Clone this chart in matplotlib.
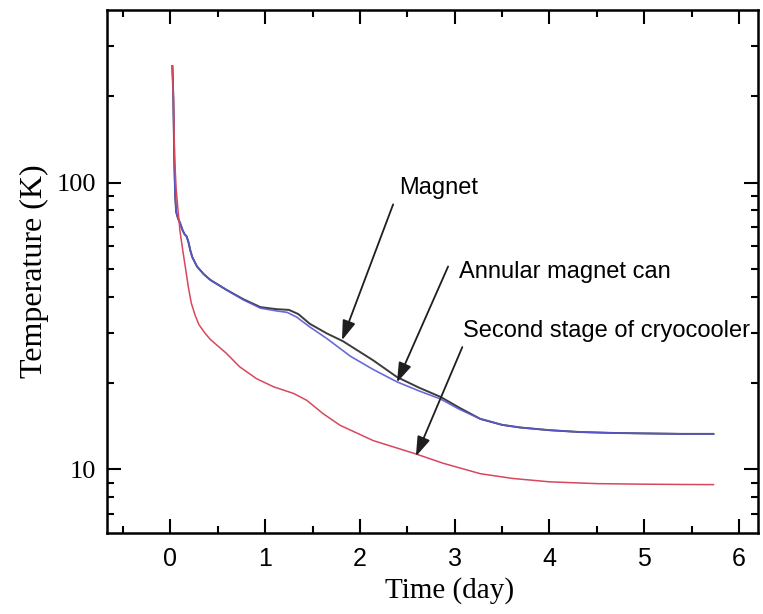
import matplotlib
matplotlib.use("Agg")
from matplotlib import pyplot as plt
from matplotlib.ticker import FixedLocator, NullFormatter
import numpy as np

# data (time in days, temperature in K)
can_time = [0.02, 0.03, 0.04, 0.05, 0.06, 0.08, 0.10, 0.13, 0.15, 0.17, 0.19, 0.21, 0.23, 0.28,
            0.35, 0.42, 0.59, 0.77, 0.95, 1.12, 1.23, 1.33, 1.47, 1.65, 1.90, 2.14, 2.39, 2.62,
            2.85, 3.05, 3.27, 3.50, 3.69, 4.00, 4.32, 4.67, 5.00, 5.40, 5.73]
can_temp = [255, 200, 120, 90, 79, 75, 72.5, 68, 66, 65, 62, 58, 55, 51,
            48, 45.8, 42.3, 39.0, 36.5, 35.7, 35.3, 34.0, 31.4, 28.6, 24.8, 22.3, 20.2, 18.8,
            17.6, 16.2, 15.0, 14.3, 14.0, 13.7, 13.5, 13.4, 13.35, 13.3, 13.3]

magnet_time = [0.02, 0.03, 0.04, 0.05, 0.06, 0.08, 0.10, 0.13, 0.15, 0.17, 0.19, 0.21, 0.23, 0.28,
               0.35, 0.42, 0.59, 0.77, 0.95, 1.12, 1.25, 1.35, 1.47, 1.65, 1.82, 2.14, 2.39, 2.62,
               2.85, 3.05, 3.27, 3.50, 3.69, 4.00, 4.32, 4.67, 5.00, 5.40, 5.73]
magnet_temp = [255, 200, 120, 90, 79, 75, 72.5, 68, 66, 65, 62, 58, 55, 51,
               48, 45.8, 42.3, 39.2, 36.8, 36.2, 36.0, 34.8, 32.2, 29.8, 28.0, 24.0, 21.0, 19.3,
               17.9, 16.4, 15.0, 14.3, 14.0, 13.7, 13.5, 13.4, 13.35, 13.3, 13.3]

cooler_time = [0.02, 0.03, 0.045, 0.06, 0.08, 0.10, 0.13, 0.16, 0.19, 0.22, 0.26, 0.30, 0.36, 0.42,
               0.59, 0.73, 0.91, 1.09, 1.30, 1.44, 1.61, 1.79, 2.14, 2.58, 2.88, 3.27, 3.61,
               4.00, 4.50, 5.00, 5.40, 5.73]
cooler_temp = [255, 200, 120, 95, 80, 68, 58, 50, 43, 38, 34.5, 32, 30, 28.4,
               25.4, 22.8, 20.7, 19.4, 18.4, 17.4, 15.65, 14.25, 12.6, 11.35, 10.5, 9.66, 9.30,
               9.05, 8.92, 8.88, 8.86, 8.85]

labels = ["Magnet", "Annular magnet can", "Second stage of cryocooler"]
label_pos = [(2.41, 96), (3.04, 48.9), (3.09, 30.4)]
arrow_from = [(2.35, 84), (2.93, 51), (3.08, 26.7)]
arrow_to = [(1.81, 28.2), (2.39, 20.1), (2.59, 11.1)]

x_ticks = [0, 1, 2, 3, 4, 5, 6]

fig = plt.figure(figsize=(7.63, 6.14), dpi=100)
ax = fig.add_axes([0.1402, 0.1319, 0.8532, 0.8518])

ax.plot(magnet_time, magnet_temp, color="#3c3c3c", lw=1.4)
ax.plot(can_time, can_temp, color="#5a5ad6", lw=1.2, alpha=0.9)
ax.plot(cooler_time, cooler_temp, color="#d8475c", lw=1.1)

ax.set_yscale("log")
ax.set_xlim(-0.67, 6.2)
ax.set_ylim(6, 400)

ax.set_xticks(x_ticks)
ax.set_xticklabels([str(t) for t in x_ticks], fontfamily="Liberation Sans", fontsize=18)
ax.xaxis.set_minor_locator(FixedLocator(np.arange(-0.5, 6.2, 0.5)))

ax.yaxis.set_major_locator(FixedLocator([10, 100]))
ax.set_yticklabels(["10", "100"], fontfamily="Liberation Serif", fontsize=19)
ax.yaxis.set_minor_locator(FixedLocator([7, 8, 9, 20, 30, 40, 50, 60, 70, 80, 90, 200, 300]))
ax.yaxis.set_minor_formatter(NullFormatter())

ax.tick_params(which="both", direction="in", top=True, right=True, width=1.5)
ax.tick_params(which="major", length=10)
ax.tick_params(which="minor", length=5)
ax.tick_params(axis="x", pad=10)
ax.tick_params(axis="y", pad=8)
for s in ax.spines.values():
    s.set_linewidth(1.8)

ax.set_xlabel("Time (day)", fontfamily="Liberation Serif", fontsize=21)
ax.xaxis.set_label_coords(0.527, -0.085)
ax.set_ylabel("Temperature (K)", fontfamily="Liberation Serif", fontsize=23, labelpad=5)

for txt, pos, a, b in zip(labels, label_pos, arrow_from, arrow_to):
    ax.text(pos[0], pos[1], txt, fontfamily="Liberation Sans", fontsize=17, va="center", ha="left")
    ax.annotate("", xy=b, xytext=a,
                arrowprops=dict(arrowstyle="-|>,head_length=0.6,head_width=0.2",
                                mutation_scale=20, color="#1e1e1e", lw=1.3,
                                shrinkA=0, shrinkB=0))

fig.savefig("out.png", dpi=100)
